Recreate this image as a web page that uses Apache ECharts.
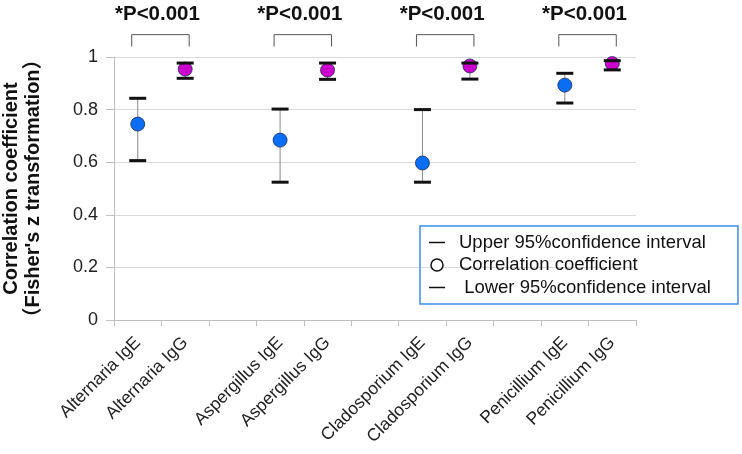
<!DOCTYPE html>
<html>
<head>
<meta charset="utf-8">
<script src="https://cdn.jsdelivr.net/npm/echarts@6/dist/echarts.min.js"></script>
<style>
  html, body { margin: 0; padding: 0; background: #fff; }
  #chart { width: 742px; height: 454px; }
</style>
</head>
<body>
<div id="chart"></div>
<script>
// 类目（空字符串为组间空位）
var categories = ['Alternaria IgE', 'Alternaria IgG', '', 'Aspergillus IgE', 'Aspergillus IgG', '',
    'Cladosporium IgE', 'Cladosporium IgG', '', 'Penicillium IgE', 'Penicillium IgG'];
// 相关系数及95%置信区间
var coef  = [0.745, 0.954, null, 0.684, 0.950, null, 0.597, 0.966, null, 0.893, 0.975];
var upper = [0.843, 0.977, null, 0.802, 0.977, null, 0.800, 0.977, null, 0.938, 0.986];
var lower = [0.606, 0.919, null, 0.524, 0.915, null, 0.524, 0.916, null, 0.825, 0.951];
// 显著性标注
var pairs = [[0, 1], [3, 4], [6, 7], [9, 10]];
var pLabels = ['*P<0.001', '*P<0.001', '*P<0.001', '*P<0.001'];
var yTicks = { min: 0, max: 1, interval: 0.2 };

var FONT = '"Liberation Sans", Arial, "Noto Sans CJK SC", sans-serif';
var chart = echarts.init(document.getElementById('chart'));

function pick(arr) {
    var out = [];
    for (var i = 0; i < arr.length; i++) {
        if (arr[i] != null) out.push([i, arr[i]]);
    }
    return out;
}

var whiskerData = [];
var pointData = [];
for (var i = 0; i < categories.length; i++) {
    if (coef[i] == null) continue;
    whiskerData.push([i, lower[i], upper[i]]);
    var isIgG = /IgG$/.test(categories[i]);
    pointData.push({
        value: [i, coef[i]],
        itemStyle: { color: isIgG ? '#cc00cc' : '#0a6ef5' }
    });
}

var option = {
    animation: false,
    backgroundColor: '#fff',
    grid: { left: 114, right: 106, top: 57, bottom: 134, containLabel: false, outerBoundsMode: 'none' },
    legend: {
        orient: 'vertical',
        left: 420,
        top: 226,
        padding: [7, 27, 7, 9],
        itemWidth: 16,
        itemHeight: 12,
        itemGap: 3.5,
        borderColor: '#3f8ce8',
        borderWidth: 1.5,
        selectedMode: false,
        textStyle: { fontFamily: FONT, fontSize: 18.5, lineHeight: 19, color: '#111', padding: [0, 0, 0, 9] },
        data: [
            { name: 'Upper 95%confidence interval', icon: 'path://M0,0H16V1.5H0Z', itemStyle: { color: '#111' } },
            { name: 'Correlation coefficient', icon: 'circle', itemStyle: { color: '#fff', borderColor: '#111', borderWidth: 1.5 } },
            { name: ' Lower 95%confidence interval', icon: 'path://M0,0H16V1.5H0Z', itemStyle: { color: '#111' } }
        ]
    },
    xAxis: {
        type: 'category',
        data: categories,
        boundaryGap: true,
        axisLine: { lineStyle: { color: '#bfbfbf', width: 1 } },
        axisTick: { show: true, interval: 0, length: 6, lineStyle: { color: '#bfbfbf' } },
        axisLabel: {
            interval: 0,
            rotate: 45,
            margin: 20,
            fontFamily: FONT,
            fontSize: 17.5,
            color: '#222'
        },
        splitLine: { show: false }
    },
    yAxis: {
        type: 'value',
        min: yTicks.min,
        max: yTicks.max,
        interval: yTicks.interval,
        name: 'Correlation coefficient\n（Fisher\'s z transformation）',
        nameLocation: 'middle',
        nameGap: 70,
        nameTextStyle: { fontFamily: FONT, fontSize: 20, fontWeight: 'bold', color: '#111', lineHeight: 22 },
        axisLine: { show: true, lineStyle: { color: '#bfbfbf' } },
        axisTick: { show: true, length: 8, lineStyle: { color: '#bfbfbf' } },
        axisLabel: { fontFamily: FONT, fontSize: 18, color: '#222', margin: 16 },
        splitLine: { lineStyle: { color: '#d9d9d9', width: 1 } }
    },
    series: [
        {
            // 置信区间竖线
            type: 'custom',
            name: 'whisker',
            z: 1,
            data: whiskerData,
            renderItem: function (params, api) {
                var x = api.value(0);
                var p1 = api.coord([x, api.value(1)]);
                var p2 = api.coord([x, api.value(2)]);
                return {
                    type: 'line',
                    shape: { x1: p1[0], y1: p1[1], x2: p2[0], y2: p2[1] },
                    style: { stroke: '#8a8a8a', lineWidth: 1 }
                };
            }
        },
        {
            name: 'Correlation coefficient',
            type: 'scatter',
            z: 3,
            symbol: 'circle',
            symbolSize: 14,
            itemStyle: { borderColor: '#1d2f55', borderWidth: 0.8, opacity: 1 },
            data: pointData
        },
        {
            name: 'Upper 95%confidence interval',
            type: 'scatter',
            z: 4,
            symbol: 'rect',
            symbolSize: [17, 3],
            itemStyle: { color: '#111', opacity: 1 },
            data: pick(upper)
        },
        {
            name: ' Lower 95%confidence interval',
            type: 'scatter',
            z: 4,
            symbol: 'rect',
            symbolSize: [17, 3],
            itemStyle: { color: '#111', opacity: 1 },
            data: pick(lower)
        },
        {
            // 显著性括号
            type: 'custom',
            name: 'bracket',
            clip: false,
            z: 5,
            data: pairs.map(function (p, k) { return [p[0], p[1], k]; }),
            renderItem: function (params, api) {
                var a = api.coord([api.value(0), 1.04]);
                var b = api.coord([api.value(1), 1.04]);
                var top = api.coord([api.value(0), 1.085])[1];
                var txtY = api.coord([api.value(0), 1.162])[1];
                var x1 = a[0] - 6, x2 = b[0] + 4;
                return {
                    type: 'group',
                    children: [
                        {
                            type: 'polyline',
                            shape: { points: [[x1, a[1]], [x1, top], [x2, top], [x2, b[1]]] },
                            style: { stroke: '#555', lineWidth: 1, fill: null }
                        },
                        {
                            type: 'text',
                            style: {
                                text: pLabels[api.value(2)],
                                x: (x1 + x2) / 2 - 3,
                                y: txtY,
                                align: 'center',
                                verticalAlign: 'middle',
                                font: 'bold 20.5px ' + FONT,
                                fill: '#111'
                            }
                        }
                    ]
                };
            }
        }
    ]
};

chart.setOption(option);
</script>
</body>
</html>
